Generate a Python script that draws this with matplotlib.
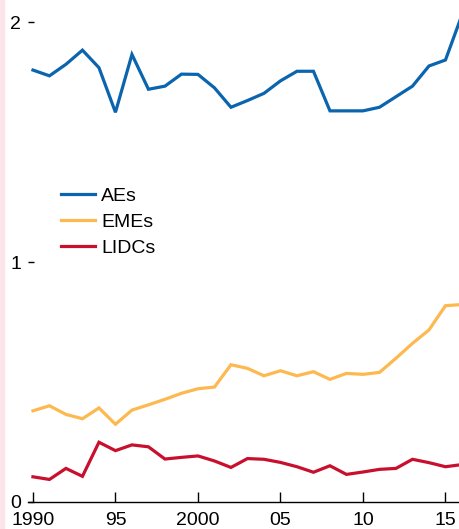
import matplotlib
matplotlib.use('Agg')
import matplotlib.pyplot as plt
from matplotlib.patches import Rectangle

plt.rcParams['font.family'] = ['Liberation Sans', 'DejaVu Sans']

years = list(range(1990, 2017))
aes = [1.80, 1.776, 1.824, 1.883, 1.810, 1.624, 1.865, 1.720, 1.733, 1.783,
       1.782, 1.726, 1.645, 1.673, 1.703, 1.755, 1.795, 1.795, 1.630, 1.630,
       1.630, 1.645, 1.689, 1.733, 1.817, 1.842, 2.03]
emes = [0.380, 0.401, 0.365, 0.347, 0.392, 0.324, 0.383, 0.405, 0.428, 0.453,
        0.472, 0.479, 0.572, 0.557, 0.526, 0.547, 0.526, 0.543, 0.511, 0.536,
        0.532, 0.540, 0.599, 0.661, 0.717, 0.818, 0.823]
lidcs = [0.105, 0.094, 0.140, 0.107, 0.249, 0.214, 0.238, 0.230, 0.179, 0.186,
         0.192, 0.171, 0.144, 0.181, 0.178, 0.165, 0.147, 0.124, 0.151, 0.115,
         0.125, 0.136, 0.140, 0.178, 0.164, 0.147, 0.156]

series_names = ['AEs', 'EMEs', 'LIDCs']
colors = ['#0a64ae', '#fdb94f', '#c8102e']

xtick_pos = [1990, 1995, 2000, 2005, 2010, 2015]
xtick_lbl = ['1990', '95', '2000', '05', '10', '15']
ytick_pos = [0, 1, 2]

fig = plt.figure(figsize=(4.59, 5.29), dpi=100)
# thin pink strip down the left edge
fig.patches.append(Rectangle((0, 0), 4 / 459, 1, transform=fig.transFigure,
                             color='#fbe5e9', zorder=0))
ax = fig.add_axes([28 / 459, 27 / 529, 431 / 459, 502 / 529])

for vals, name, c in zip([aes, emes, lidcs], series_names, colors):
    ax.plot(years, vals, color=c, lw=2.3, label=name, solid_joinstyle='miter')

ax.set_xlim(1989.7, 2015.82)
ax.set_ylim(0, 2.092)

for s in ['top', 'right', 'left']:
    ax.spines[s].set_visible(False)
ax.spines['bottom'].set_linewidth(1.0)

ax.set_xticks(xtick_pos)
ax.set_xticklabels(xtick_lbl, fontsize=14)
ax.set_yticks(ytick_pos)
ax.set_yticklabels([str(v) for v in ytick_pos], fontsize=14)
ax.tick_params(axis='x', direction='in', length=7, width=1.0, pad=7)
ax.tick_params(axis='y', direction='in', length=4.5, width=1.0, pad=5)

leg = ax.legend(loc='upper left', bbox_to_anchor=(47 / 459, 1 - 174 / 529),
                bbox_transform=fig.transFigure, frameon=False, fontsize=14,
                handlelength=1.75, handletextpad=0.35, labelspacing=0.42,
                borderpad=0.2)

fig.savefig('out.png', dpi=100)
